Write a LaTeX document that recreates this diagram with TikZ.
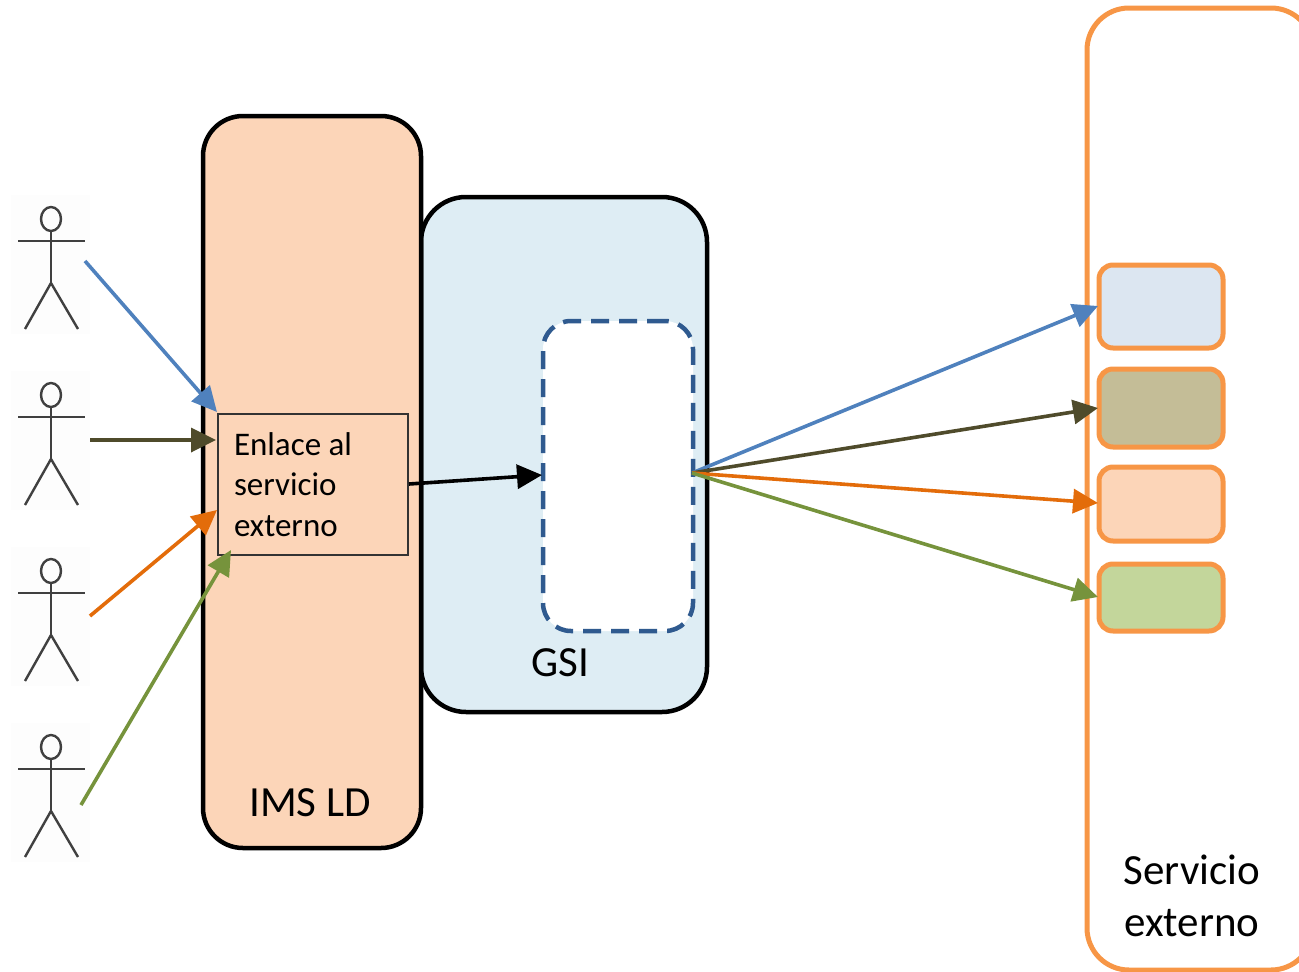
\documentclass[tikz,border=0pt]{standalone}
\usepackage{fontspec}
\setmainfont{Carlito}
\usetikzlibrary{arrows.meta}
\definecolor{peach}{HTML}{FCD5B8}
\definecolor{skyb}{HTML}{DEEDF4}
\definecolor{servor}{HTML}{F79646}
\definecolor{dashb}{HTML}{2F5A8F}
\definecolor{lblue}{HTML}{DCE6F1}
\definecolor{lolive}{HTML}{C4BD97}
\definecolor{lgreen}{HTML}{C3D69B}
\definecolor{ablue}{HTML}{4F81BD}
\definecolor{aolive}{HTML}{4F4B2B}
\definecolor{aorange}{HTML}{E36C0A}
\definecolor{agreen}{HTML}{76933C}
\definecolor{actorc}{HTML}{404040}
\tikzset{
  x=1pt,y=-1pt,
  block/.style={draw=black,line width=4.5pt,rounded corners=40pt,outer sep=0pt,inner sep=0pt},
  slot/.style={draw=servor,line width=5pt,rounded corners=14pt,outer sep=0pt,inner sep=0pt,minimum width=124pt},
  patch/.style={fill=black!0.6,draw=none,minimum width=79pt,minimum height=139pt,outer sep=0pt,inner sep=0pt},
  limb/.style={draw=actorc,line width=2.4pt},
  flow/.style={line width=3.6pt,-{Triangle[length=25pt,width=24pt]},shorten >=0pt},
  lab/.style={inner sep=0pt,outer sep=0pt,anchor=base,text=black},
}
\newcommand{\actor}[2]{%
  \begin{scope}[yshift=-#2pt]
    \node[patch] (#1) at (50.5,264.5) {};
    \draw[limb] (51,219) ellipse [x radius=10pt,y radius=12pt];
    \draw[limb] (18,241) -- (85,241);
    \draw[limb] (51,231) -- (51,283);
    \draw[limb] (25,329) -- (51,283) -- (78,329);
  \end{scope}}
\begin{document}
\begin{tikzpicture}
\useasboundingbox (0,0) rectangle (1299,972);
\begin{scope}
\clip (0,0) rectangle (1299,972);
\node[draw=servor,line width=5pt,rounded corners=42pt,outer sep=0pt,inner sep=0pt,minimum width=226pt,minimum height=962pt] (serv) at (1200,489) {};
\end{scope}
\node[block,fill=skyb,rounded corners=45pt,minimum width=286pt,minimum height=515pt] (gsi) at (564,454.5) {};
\node[block,fill=peach,minimum width=218pt,minimum height=732pt] (ims) at (312,482) {};
\node[draw=dashb,fill=white,line width=4.5pt,dash pattern=on 18pt off 10pt,rounded corners=28pt,outer sep=0pt,inner sep=0pt,minimum width=150pt,minimum height=310pt] (pool) at (618,476) {};
\node[draw=black!80,fill=peach,line width=1.5pt,outer sep=0pt,inner sep=0pt,minimum width=190pt,minimum height=141pt] (link) at (313,484.5) {};
\node[lab,anchor=base west,font=\fontsize{33}{40.5}\selectfont,align=left] (linktxt) at (234,536) {Enlace al\\servicio\\externo};
\node[lab,font=\fontsize{43}{43}\selectfont] (gsitxt) at (560,676) {GSI};
\node[lab,font=\fontsize{43}{43}\selectfont] (imstxt) at (310,816) {IMS LD};
\node[lab,font=\fontsize{43}{52}\selectfont,align=center,anchor=base] (servtxt) at (1192,936) {Servicio\\externo};
\node[slot,fill=lblue,minimum height=83pt] (s1) at (1161,306.5) {};
\node[slot,fill=lolive,minimum height=78pt] (s2) at (1161,408) {};
\node[slot,fill=peach,minimum height=74pt] (s3) at (1161,504) {};
\node[slot,fill=lgreen,minimum height=67pt] (s4) at (1161,597.5) {};
\actor{a1}{0}
\actor{a2}{176}
\actor{a3}{352}
\actor{a4}{528}
\coordinate (b1) at (85,261);
\coordinate (b2) at (90,440);
\coordinate (b3) at (90,616);
\coordinate (b4) at (81,805);
\coordinate (e1) at (217,412);
\coordinate (e2) at (216,440);
\coordinate (e3) at (217,510);
\coordinate (e4) at (231,550);
\coordinate (m1) at (409,484);
\coordinate (m2) at (542,475);
\coordinate (hub) at (692,473);
\coordinate (t1) at (1098,306);
\coordinate (t2) at (1098,408);
\coordinate (t3) at (1098,503);
\coordinate (t4) at (1098,597);
\draw[flow,color=ablue] (b1) -- (e1);
\draw[flow,color=aolive] (b2) -- (e2);
\draw[flow,color=aorange] (b3) -- (e3);
\draw[flow,color=agreen] (b4) -- (e4);
\draw[flow,color=black] (m1) -- (m2);
\draw[flow,color=ablue] (hub) -- (t1);
\draw[flow,color=aolive] (hub) -- (t2);
\draw[flow,color=aorange] (hub) -- (t3);
\draw[flow,color=agreen] (hub) -- (t4);
\end{tikzpicture}
\end{document}
